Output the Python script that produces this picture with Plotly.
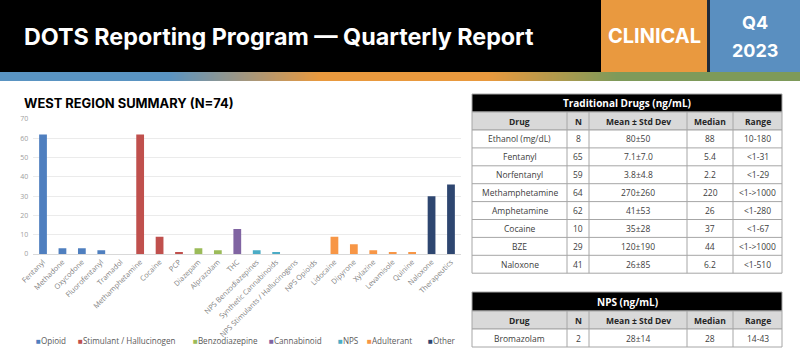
import plotly.graph_objects as go

W, H = 800, 355

# ---------------- data ----------------
categories = ["Fentanyl", "Methadone", "Oxycodone", "Fluorofentanyl", "Tramadol",
              "Methamphetamine", "Cocaine", "PCP", "Diazepam", "Alprazolam", "THC",
              "NPS Benzodiazepines", "Synthetic Cannabinoids",
              "NPS Stimulants / Hallucinogens", "NPS Opioids", "Lidocaine", "Dipyrone",
              "Xylazine", "Levamisole", "Quinine", "Naloxone", "Therapeutics"]
counts = [62, 3, 3, 2, 0, 62, 9, 1, 3, 2, 13, 2, 1, 0, 0, 9, 5, 2, 1, 1, 30, 36]
groups = ["Opioid", "Opioid", "Opioid", "Opioid", "Opioid",
          "Stimulant / Hallucinogen", "Stimulant / Hallucinogen", "Stimulant / Hallucinogen",
          "Benzodiazepine", "Benzodiazepine", "Cannabinoid", "NPS", "NPS", "NPS", "NPS",
          "Adulterant", "Adulterant", "Adulterant", "Adulterant", "Adulterant",
          "Other", "Other"]
group_names = ["Opioid", "Stimulant / Hallucinogen", "Benzodiazepine", "Cannabinoid",
               "NPS", "Adulterant", "Other"]
group_colors = ["#4F7FBF", "#C0504D", "#9BBB59", "#8064A2", "#4BACC6", "#F79646", "#2E4670"]

trad_title = "Traditional Drugs (ng/mL)"
trad_drug = ["Ethanol (mg/dL)", "Fentanyl", "Norfentanyl", "Methamphetamine",
             "Amphetamine", "Cocaine", "BZE", "Naloxone"]
trad_n = ["8", "65", "59", "64", "62", "10", "29", "41"]
trad_mean = ["80±50", "7.1±7.0", "3.8±4.8", "270±260", "41±53", "35±28", "120±190", "26±85"]
trad_median = ["88", "5.4", "2.2", "220", "26", "37", "44", "6.2"]
trad_range = ["10-180", "<1-31", "<1-29", "<1->1000", "<1-280", "<1-67", "<1->1000", "<1-510"]

nps_title = "NPS (ng/mL)"
nps_drug = ["Bromazolam"]
nps_n = ["2"]
nps_mean = ["28±14"]
nps_median = ["28"]
nps_range = ["14-43"]

table_headers = ["Drug", "N", "Mean ± Std Dev", "Median", "Range"]

# ---------------- layout helpers ----------------
def px_x(v):
    return v / W

def px_y(v):
    return 1 - v / H

FONT = "Open Sans"
TITLE_FONT = "Inter"
P = dict(xref="paper", yref="paper")

fig = go.Figure()

# bars, one trace per group
for g, c in zip(group_names, group_colors):
    xs = [cat for cat, gg in zip(categories, groups) if gg == g]
    ys = [v for v, gg in zip(counts, groups) if gg == g]
    fig.add_trace(go.Bar(x=xs, y=ys, name=g, marker=dict(color=c, line=dict(width=0)),
                         showlegend=False, xaxis="x", yaxis="y"))

# gradient strip as heatmap
fig.add_trace(go.Heatmap(z=[[0, 1]], x=[0, 1], y=[0], zsmooth="best", showscale=False,
                         colorscale=[[0, "#5A94C2"], [0.21, "#5A94C2"], [0.40, "#E9993E"],
                                     [0.61, "#E9993E"], [0.77, "#7E9A5A"], [1, "#7E9A5A"]],
                         xaxis="x2", yaxis="y2", hoverinfo="skip"))

shapes = [
    dict(type="rect", x0=0, x1=1, y0=px_y(72), y1=1, fillcolor="black", line=dict(width=0), **P),
    dict(type="rect", x0=px_x(601), x1=px_x(707), y0=px_y(72), y1=1,
         fillcolor="#E9993F", line=dict(width=0), **P),
    dict(type="rect", x0=px_x(707), x1=px_x(710), y0=px_y(72), y1=1,
         fillcolor="#1E2A3A", line=dict(width=0), **P),
    dict(type="rect", x0=px_x(710), x1=1, y0=px_y(72), y1=1,
         fillcolor="#5A8FC0", line=dict(width=0), **P),
]

annotations = [
    dict(text="<b>DOTS Reporting Program — Quarterly Report</b>", x=px_x(22), y=px_y(37),
         xanchor="left", yanchor="middle", showarrow=False,
         font=dict(family=TITLE_FONT, size=23.3, color="white"), **P),
    dict(text="<b>CLINICAL</b>", x=px_x(654), y=px_y(36), xanchor="center", yanchor="middle",
         showarrow=False, font=dict(family=TITLE_FONT, size=20, color="white"), **P),
    dict(text="<b>Q4</b>", x=px_x(755), y=px_y(22), xanchor="center", yanchor="middle",
         showarrow=False, font=dict(family=TITLE_FONT, size=18, color="white"), **P),
    dict(text="<b>2023</b>", x=px_x(755), y=px_y(50), xanchor="center", yanchor="middle",
         showarrow=False, font=dict(family=TITLE_FONT, size=18, color="white"), **P),
    dict(text="<b>WEST REGION SUMMARY (N=74)</b>", x=px_x(22), y=px_y(103), xanchor="left",
         yanchor="middle", showarrow=False,
         font=dict(family=TITLE_FONT, size=12.9, color="black"), **P),
]

# tables drawn from the lists
col_edges = [472, 567, 589, 687, 733, 782]
BORDER = "#A6A6A6"

def add_table(title, cols, top, title_h, head_h, row_h):
    n_rows = len(cols[0])
    y_title_bot = top + title_h
    y_head_bot = y_title_bot + head_h
    bottom = y_head_bot + n_rows * row_h
    shapes.append(dict(type="rect", x0=px_x(col_edges[0]), x1=px_x(col_edges[-1]),
                       y0=px_y(y_title_bot), y1=px_y(top), fillcolor="black",
                       line=dict(color=BORDER, width=1), **P))
    shapes.append(dict(type="rect", x0=px_x(col_edges[0]), x1=px_x(col_edges[-1]),
                       y0=px_y(y_head_bot), y1=px_y(y_title_bot), fillcolor="#D9D9D9",
                       line=dict(color=BORDER, width=1), **P))
    shapes.append(dict(type="rect", x0=px_x(col_edges[0]), x1=px_x(col_edges[-1]),
                       y0=px_y(bottom), y1=px_y(y_head_bot), fillcolor="white",
                       line=dict(color=BORDER, width=1), **P))
    for r in range(1, n_rows):
        yy = y_head_bot + r * row_h
        shapes.append(dict(type="line", x0=px_x(col_edges[0]), x1=px_x(col_edges[-1]),
                           y0=px_y(yy), y1=px_y(yy), line=dict(color=BORDER, width=1), **P))
    for xe in col_edges[1:-1]:
        shapes.append(dict(type="line", x0=px_x(xe), x1=px_x(xe), y0=px_y(bottom),
                           y1=px_y(y_title_bot), line=dict(color=BORDER, width=1), **P))
    annotations.append(dict(text="<b>%s</b>" % title,
                            x=px_x((col_edges[0] + col_edges[-1]) / 2),
                            y=px_y(top + title_h / 2), xanchor="center", yanchor="middle",
                            showarrow=False, font=dict(family=FONT, size=10, color="white"), **P))
    for ci, h in enumerate(table_headers):
        cx = (col_edges[ci] + col_edges[ci + 1]) / 2
        annotations.append(dict(text="<b>%s</b>" % h, x=px_x(cx),
                                y=px_y(y_title_bot + head_h / 2), xanchor="center",
                                yanchor="middle", showarrow=False,
                                font=dict(family=FONT, size=8.5, color="#262626"), **P))
        for ri, val in enumerate(cols[ci]):
            annotations.append(dict(text=val.replace("<", "&lt;").replace(">", "&gt;"),
                                    x=px_x(cx), y=px_y(y_head_bot + (ri + 0.5) * row_h),
                                    xanchor="center", yanchor="middle", showarrow=False,
                                    font=dict(family=FONT, size=8.5, color="#404040"), **P))

add_table(trad_title, [trad_drug, trad_n, trad_mean, trad_median, trad_range], 94, 18, 18, 17.9)
add_table(nps_title, [nps_drug, nps_n, nps_mean, nps_median, nps_range], 292, 19, 18, 18)

# custom compact legend
legend_x = [34, 76, 191, 267, 336, 365, 426]
for lx, g, c in zip(legend_x, group_names, group_colors):
    annotations.append(dict(text="<span style='color:%s'>■</span>%s" % (c, g),
                            x=px_x(lx), y=px_y(340), xanchor="left", yanchor="middle",
                            showarrow=False,
                            font=dict(family=FONT, size=8.1, color="#595959"), **P))

fig.update_layout(
    width=W, height=H, margin=dict(l=0, r=0, t=0, b=0, pad=0), autosize=False,
    paper_bgcolor="white", plot_bgcolor="white",
    barmode="overlay", bargap=0.6,
    xaxis=dict(domain=[px_x(33.3), px_x(460.7)], categoryorder="array", categoryarray=categories,
               range=[-0.5, len(categories) - 0.5], automargin=False,
               tickangle=-45, tickfont=dict(family=FONT, size=7.3, color="#7F7F7F"),
               showgrid=False, showline=True, linecolor="#D9D9D9", linewidth=1, ticks="",
               fixedrange=True),
    yaxis=dict(domain=[px_y(254), px_y(119)], range=[0, 70], dtick=10, automargin=False,
               tickfont=dict(family=FONT, size=7, color="#A0A0A0"),
               gridcolor="#EBEBEB", gridwidth=1, zeroline=False, showline=False,
               ticks="", ticklabelstandoff=4),
    xaxis2=dict(domain=[0, 1], range=[0, 1], visible=False, anchor="y2", automargin=False),
    yaxis2=dict(domain=[px_y(81), px_y(72)], visible=False, anchor="x2", automargin=False),
    shapes=shapes, annotations=annotations,
)

fig.write_html("out.html", config={"displayModeBar": False},
               post_script="document.body.style.margin='0';document.body.style.overflow='hidden';")
